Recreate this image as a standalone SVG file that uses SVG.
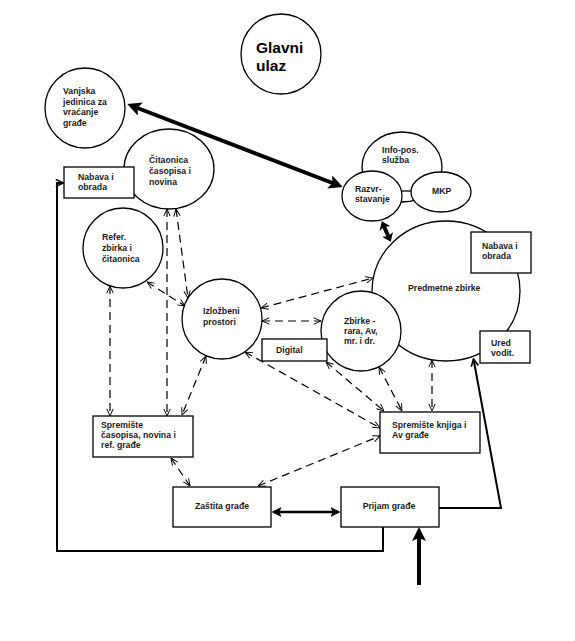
<svg xmlns="http://www.w3.org/2000/svg" width="575" height="641" viewBox="0 0 575 641">
<style>
  .n { fill: #fff; stroke: #000; stroke-width: 1.3; }
  .t { font-family: "Liberation Sans", Arial, sans-serif; font-weight: bold; font-size: 8.7px; fill: #1a1a1a; }
  .big { font-size: 15.5px; fill: #000; }
  .d { fill: none; stroke: #000; stroke-width: 1.2; stroke-dasharray: 8 5; marker-start: url(#open); marker-end: url(#open); }
  .fat { fill: none; stroke: #000; stroke-width: 4; }
  .solid { fill: none; stroke: #000; stroke-width: 2; }
</style>
<defs>
  <marker id="open" viewBox="0 0 10 10" refX="10" refY="5" markerWidth="8" markerHeight="8" markerUnits="userSpaceOnUse" orient="auto-start-reverse">
    <path d="M1,1 L10,5 L1,9" fill="none" stroke="#000" stroke-width="1.2"/>
  </marker>
  <marker id="open2" viewBox="0 0 10 10" refX="9" refY="5" markerWidth="9" markerHeight="9" markerUnits="userSpaceOnUse" orient="auto-start-reverse">
    <path d="M1,1 L9,5 L1,9" fill="none" stroke="#000" stroke-width="1.8"/>
  </marker>
  <marker id="fat" viewBox="0 0 14 14" refX="10" refY="7" markerWidth="14" markerHeight="14" markerUnits="userSpaceOnUse" orient="auto-start-reverse">
    <path d="M0,0 L14,7 L0,14 L3,7 Z" fill="#000"/>
  </marker>
  <marker id="short" viewBox="0 0 8 12" refX="5" refY="6" markerWidth="8" markerHeight="12" markerUnits="userSpaceOnUse" orient="auto-start-reverse">
    <path d="M0,0 L8,6 L0,12 L2,6 Z" fill="#000"/>
  </marker>
  <marker id="mid" viewBox="0 0 10 10" refX="8" refY="5" markerWidth="10" markerHeight="10" markerUnits="userSpaceOnUse" orient="auto-start-reverse">
    <path d="M0,0 L10,5 L0,10 L2,5 Z" fill="#000"/>
  </marker>
</defs>
<rect width="575" height="641" fill="#fff"/>

<g id="glavni-ulaz">
  <circle class="n" cx="281" cy="54" r="40"/>
  <text class="t big" x="256" y="52.5">Glavni</text>
  <text class="t big" x="256" y="70.5">ulaz</text>
</g>

<g id="vanjska-jedinica">
  <circle class="n" cx="85" cy="108" r="40"/>
  <text class="t" x="63" y="94">Vanjska</text>
  <text class="t" x="63" y="104.5">jedinica za</text>
  <text class="t" x="63" y="115">vraćanje</text>
  <text class="t" x="63" y="125.5">građe</text>
</g>

<g id="citaonica">
  <ellipse class="n" cx="169" cy="169" rx="45" ry="40"/>
  <text class="t" x="149" y="162.5">Čitaonica</text>
  <text class="t" x="149" y="173.5">časopisa i</text>
  <text class="t" x="149" y="184.5">novina</text>
</g>

<g id="nabava-lijevo">
  <rect class="n" x="64" y="167" width="70" height="31"/>
  <text class="t" x="78" y="180">Nabava i</text>
  <text class="t" x="78" y="190">obrada</text>
</g>

<g id="refer-zbirka">
  <circle class="n" cx="123" cy="248" r="40"/>
  <text class="t" x="102" y="240">Refer.</text>
  <text class="t" x="102" y="250.5">zbirka i</text>
  <text class="t" x="102" y="261.5">čitaonica</text>
</g>

<g id="izlozbeni-prostori">
  <circle class="n" cx="222" cy="319" r="40"/>
  <text class="t" x="203" y="313.5">Izložbeni</text>
  <text class="t" x="203" y="324.5">prostori</text>
</g>

<g id="info-pos">
  <ellipse class="n" cx="402" cy="167" rx="40" ry="35"/>
  <text class="t" x="382" y="152.5">Info-pos.</text>
  <text class="t" x="382" y="162.5">služba</text>
</g>

<g id="predmetne-zbirke">
  <ellipse class="n" cx="446" cy="291" rx="74" ry="70"/>
  <text class="t" x="408" y="291">Predmetne zbirke</text>
</g>

<g id="connectors">
  <line x1="402" y1="191" x2="412" y2="191" stroke="#000" stroke-width="1.3"/>
  <line class="fat" x1="131" y1="105.5" x2="339" y2="185.5" marker-start="url(#fat)" marker-end="url(#fat)"/>
  <line class="fat" x1="383" y1="224" x2="389.5" y2="239" marker-start="url(#short)" marker-end="url(#short)"/>
  <line class="fat" x1="419" y1="585" x2="419" y2="531" marker-end="url(#fat)"/>
  <line x1="273.5" y1="512" x2="338.5" y2="512" stroke="#000" stroke-width="2.5" marker-start="url(#mid)" marker-end="url(#mid)"/>
  <polyline class="solid" points="383,527 383,551 57,551 57,183 63,183" marker-end="url(#open2)"/>
  <polyline class="solid" points="439,508 501,508 473.5,359" marker-end="url(#open2)"/>

  <line class="d" x1="167" y1="209" x2="167" y2="416"/>
  <line class="d" x1="176" y1="209" x2="188" y2="298"/>
  <line class="d" x1="147" y1="282" x2="185" y2="306"/>
  <line class="d" x1="110" y1="286" x2="110" y2="416"/>
  <line class="d" x1="206" y1="356" x2="182" y2="415"/>
  <line class="d" x1="261" y1="308" x2="373" y2="278"/>
  <line class="d" x1="262" y1="321" x2="321" y2="321"/>
  <line class="d" x1="245" y1="352" x2="380" y2="428"/>
  <line class="d" x1="326" y1="362" x2="384" y2="411"/>
  <line class="d" x1="379" y1="367" x2="402" y2="411"/>
  <line class="d" x1="432" y1="360" x2="432" y2="411"/>
  <line class="d" x1="258" y1="486" x2="380" y2="436"/>
  <line class="d" x1="171" y1="458" x2="190" y2="486"/>
</g>

<g id="razvrstavanje">
  <ellipse class="n" cx="372" cy="196" rx="30" ry="25"/>
  <text class="t" x="355" y="191.5">Razvr-</text>
  <text class="t" x="355" y="202">stavanje</text>
</g>

<g id="mkp">
  <ellipse class="n" cx="441" cy="192" rx="30" ry="20"/>
  <text class="t" x="432" y="193.5">MKP</text>
</g>

<g id="nabava-desno">
  <rect class="n" x="471" y="232" width="60" height="41"/>
  <text class="t" x="482" y="248.5">Nabava i</text>
  <text class="t" x="482" y="258.5">obrada</text>
</g>

<g id="ured-vodit">
  <rect class="n" x="480" y="331" width="50" height="32"/>
  <text class="t" x="491" y="345.5">Ured</text>
  <text class="t" x="491" y="356">vodit.</text>
</g>

<g id="zbirke-rara">
  <circle class="n" cx="361" cy="331" r="40"/>
  <text class="t" x="344" y="323.5">Zbirke -</text>
  <text class="t" x="344" y="333.5">rara, Av,</text>
  <text class="t" x="344" y="343.5">mr. i dr.</text>
</g>

<g id="digital">
  <rect class="n" x="262" y="339" width="65" height="22"/>
  <text class="t" x="276" y="352.5">Digital</text>
</g>

<g id="spremiste-casopisa">
  <rect class="n" x="93" y="416" width="100" height="41"/>
  <text class="t" x="101" y="427.5">Spremište</text>
  <text class="t" x="101" y="437.5">časopisa, novina i</text>
  <text class="t" x="101" y="448">ref. građe</text>
</g>

<g id="spremiste-knjiga">
  <rect class="n" x="380" y="412" width="100" height="41"/>
  <text class="t" x="392" y="427.5">Spremište knjiga i</text>
  <text class="t" x="392" y="437.5">Av građe</text>
</g>

<g id="zastita-grade">
  <rect class="n" x="173" y="487" width="98" height="40"/>
  <text class="t" x="222" y="509" text-anchor="middle">Zaštita građe</text>
</g>

<g id="prijam-grade">
  <rect class="n" x="341" y="487" width="98" height="40"/>
  <text class="t" x="389" y="509" text-anchor="middle">Prijam građe</text>
</g>
</svg>
